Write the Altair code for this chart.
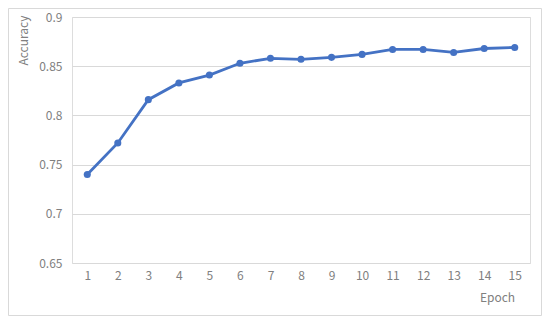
import altair as alt
import pandas as pd

epochs = list(range(1, 16))
accuracy = [0.740, 0.772, 0.816, 0.833, 0.841, 0.853, 0.858, 0.857, 0.859,
            0.862, 0.867, 0.867, 0.864, 0.868, 0.869]
y_ticks = [0.65, 0.7, 0.75, 0.8, 0.85, 0.9]

df = pd.DataFrame({"Epoch": epochs, "Accuracy": accuracy})

W, H = 458, 246
PL, PT, PR, PB = 64, 9, 12, 53
FONT = "Noto Sans CJK SC"
GRAY = "#808080"

base = alt.Chart(df).encode(
    x=alt.X("Epoch:O",
            scale=alt.Scale(type="point", padding=0.5),
            axis=alt.Axis(title="Epoch", labelAngle=0, domain=False, ticks=False,
                          grid=False, labelPadding=7, labelFontSize=12,
                          labelColor=GRAY, labelFont=FONT, titleFont=FONT,
                          titleFontSize=12, titleFontWeight="normal",
                          titleColor=GRAY, titleX=425, titleY=34,
                          titleAlign="center", titleBaseline="middle")),
    y=alt.Y("Accuracy:Q",
            scale=alt.Scale(domain=[0.65, 0.9], nice=False, zero=False),
            axis=alt.Axis(title="Accuracy", values=y_ticks, format="~g",
                          domain=False, ticks=False, grid=True,
                          gridColor="#d9d9d9",
                          labelPadding=10, labelFontSize=12, labelColor=GRAY,
                          labelFont=FONT, titleFont=FONT, titleFontSize=12,
                          titleFontWeight="normal", titleColor=GRAY,
                          titleX=-49, titleY=23, titleAngle=-90,
                          titleAlign="center", titleBaseline="middle")),
)

line = base.mark_line(color="#4472C4", strokeWidth=2.8)
points = base.mark_point(color="#4472C4", filled=True, size=50, opacity=1)

frame = alt.Chart(pd.DataFrame({"a": [0]})).mark_rect(
    fill=None, stroke="#d9d9d9", strokeWidth=1, clip=False
).encode(
    x=alt.value(-PL + 0.5), x2=alt.value(W + PR - 0.5),
    y=alt.value(-PT + 0.5), y2=alt.value(H + PB - 0.5),
)

chart = alt.layer(frame, line, points).properties(
    width=W, height=H,
    autosize=alt.AutoSizeParams(type="none"),
    padding={"left": PL, "top": PT, "right": PR, "bottom": PB},
).configure_view(stroke=None).configure(background="white")

chart.save("out.html", embed_options={"renderer": "svg", "actions": False})
